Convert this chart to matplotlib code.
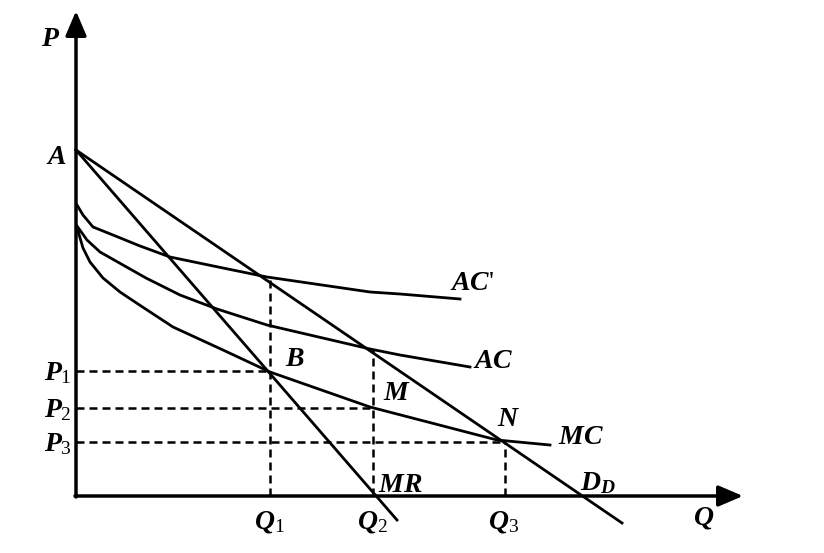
import matplotlib
matplotlib.use("Agg")
import matplotlib.pyplot as plt

plt.rcParams["font.family"] = ["Liberation Serif", "DejaVu Serif"]
plt.rcParams["mathtext.fontset"] = "custom"
plt.rcParams["mathtext.it"] = "Liberation Serif:italic:bold"
plt.rcParams["mathtext.rm"] = "Liberation Serif"

# curves (x = quantity, y = price, arbitrary units)
ac_prime_x = [1, 7, 17, 37, 64, 94, 147, 191, 294, 324, 384]
ac_prime_y = [291, 281, 269, 261, 250, 239, 228, 219, 204, 202, 197]

ac_x = [1, 11, 24, 47, 70, 104, 141, 191, 294, 324, 394]
ac_y = [270, 256, 244, 231, 218, 201, 187, 171, 147, 141, 129]

mc_x = [2, 7, 14, 27, 44, 62, 97, 147, 194, 294, 421, 474]
mc_y = [265, 248, 234, 218, 204, 192, 169, 146, 124, 89, 56, 51]

demand_x = [0, 546]
demand_y = [346, -27]

mr_x = [0, 321]
mr_y = [346, -24]

# equilibrium levels
q_levels = [194, 297, 429]
p_levels = [125, 88, 54]
q_tops = [217, 146, 54]
q_labels = ["$Q_1$", "$Q_2$", "$Q_3$"]
p_labels = ["$P_1$", "$P_2$", "$P_3$"]

fig = plt.figure(figsize=(8.24, 5.53), dpi=100)
ax = fig.add_axes([0, 0, 1, 1])
ax.set_xlim(-76, 748)
ax.set_ylim(-57, 496)
ax.axis("off")

lw = 2.0
ax.plot(ac_prime_x, ac_prime_y, color="black", lw=lw, solid_joinstyle="round")
ax.plot(ac_x, ac_y, color="black", lw=lw, solid_joinstyle="round")
ax.plot(mc_x, mc_y, color="black", lw=lw, solid_joinstyle="round")
ax.plot(demand_x, demand_y, color="black", lw=lw)
ax.plot(mr_x, mr_y, color="black", lw=lw)

dash = (0, (3.2, 2.0))
for q, p, top in zip(q_levels, p_levels, q_tops):
    ax.plot([0, q], [p, p], color="black", lw=1.8, linestyle=dash)
    ax.plot([q, q], [0, top], color="black", lw=1.8, linestyle=dash)

# axes with arrow heads
arrow = dict(arrowstyle="-|>,head_length=0.75,head_width=0.32",
             mutation_scale=20, lw=2.5, color="black", shrinkA=0, shrinkB=0)
ax.annotate("", xy=(0, 485), xytext=(0, -1), arrowprops=arrow)
ax.annotate("", xy=(667, 0), xytext=(-1, 0), arrowprops=arrow)

fs = 20
ax.text(-25, 456, "$P$", fontsize=fs, ha="center", va="center")
ax.text(-20, 339, "$A$", fontsize=fs, ha="center", va="center")
ax.text(628, -22, "$Q$", fontsize=fs, ha="center", va="center")

for lab, p in zip(p_labels, p_levels):
    ax.text(-4, p - 2, lab, fontsize=fs, ha="right", va="center")
for lab, q in zip(q_labels, q_levels):
    ax.text(q - 1, -26, lab, fontsize=fs, ha="center", va="center")

ax.text(209, 137, "$B$", fontsize=fs, ha="left", va="center")
ax.text(307, 102, "$M$", fontsize=fs, ha="left", va="center")
ax.text(421, 76, "$N$", fontsize=fs, ha="left", va="center")
ax.text(374, 213, "$AC$'", fontsize=fs, ha="left", va="center")
ax.text(397, 135, "$AC$", fontsize=fs, ha="left", va="center")
ax.text(482, 58, "$MC$", fontsize=fs, ha="left", va="center")
ax.text(302, 11, "$MR$", fontsize=fs, ha="left", va="center")
ax.text(504, 13, "$D_D$", fontsize=fs, ha="left", va="center")

fig.savefig("out.png", dpi=100, facecolor="white")
